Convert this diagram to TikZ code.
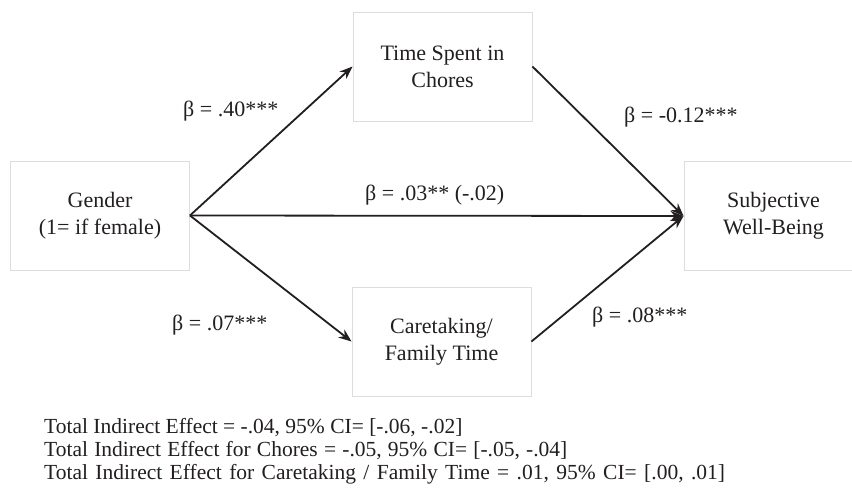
\documentclass[tikz,border=0pt]{standalone}
\usepackage{fontspec}
\setmainfont{Liberation Serif}
\usetikzlibrary{arrows.meta}
\definecolor{boxgray}{HTML}{DDDDDD}
\definecolor{ink}{HTML}{231F20}
\tikzset{
  varbox/.style={draw=boxgray, line width=0.9pt, minimum width=179pt, minimum height=109pt,
    inner sep=0pt, align=center, text=ink, font=\fontsize{22}{27}\selectfont},
  path/.style={draw=ink, line width=1.8pt, -{Stealth[length=13pt,width=10pt]}},
  coef/.style={anchor=base west, inner sep=0pt, text=ink, font=\fontsize{22}{27}\selectfont},
  note/.style={anchor=base west, inner sep=0pt, text=ink, align=left, font=\fontsize{21.5}{23}\selectfont}
}
\begin{document}
\begin{tikzpicture}[x=1pt,y=-1pt]
\clip (0,0) rectangle (852,493);
\fill[white] (0,0) rectangle (852,493);
\node[varbox] (g) at (100,215.5) {Gender\\(1= if female)};
\node[varbox] (c) at (442.5,66.5) {Time Spent in\\Chores};
\node[varbox] (k) at (441.5,341.5) {Caretaking/\\Family Time};
\node[varbox] (s) at (773.5,216) {Subjective\\Well-Being};
\draw[path] (g.east) -- (c.west);
\draw[path] (g.east) -- (k.west);
\draw[path] (g.east) -- (s.west);
\draw[path] (c.east) -- (s.west);
\draw[path] (k.east) -- (s.west);
\node[coef] (l1) at (183,116) {β = .40***};
\node[coef] (l2) at (624,122) {β = -0.12***};
\node[coef] (l3) at (365,200) {β = .03** (-.02)};
\node[coef] (l4) at (172,330) {β = .07***};
\node[coef] (l5) at (592,322) {β = .08***};
\node[note] (t1) at (44,433) {Total Indirect Effect = -.04, 95\% CI= [-.06, -.02]};
\node[note] (t2) at (44,456) {\spaceskip=6.2pt Total Indirect Effect for Chores = -.05, 95\% CI= [-.05, -.04]};
\node[note] (t3) at (44,479) {\spaceskip=7.4pt Total Indirect Effect for Caretaking / Family Time = .01, 95\% CI= [.00, .01]};
\end{tikzpicture}
\end{document}
